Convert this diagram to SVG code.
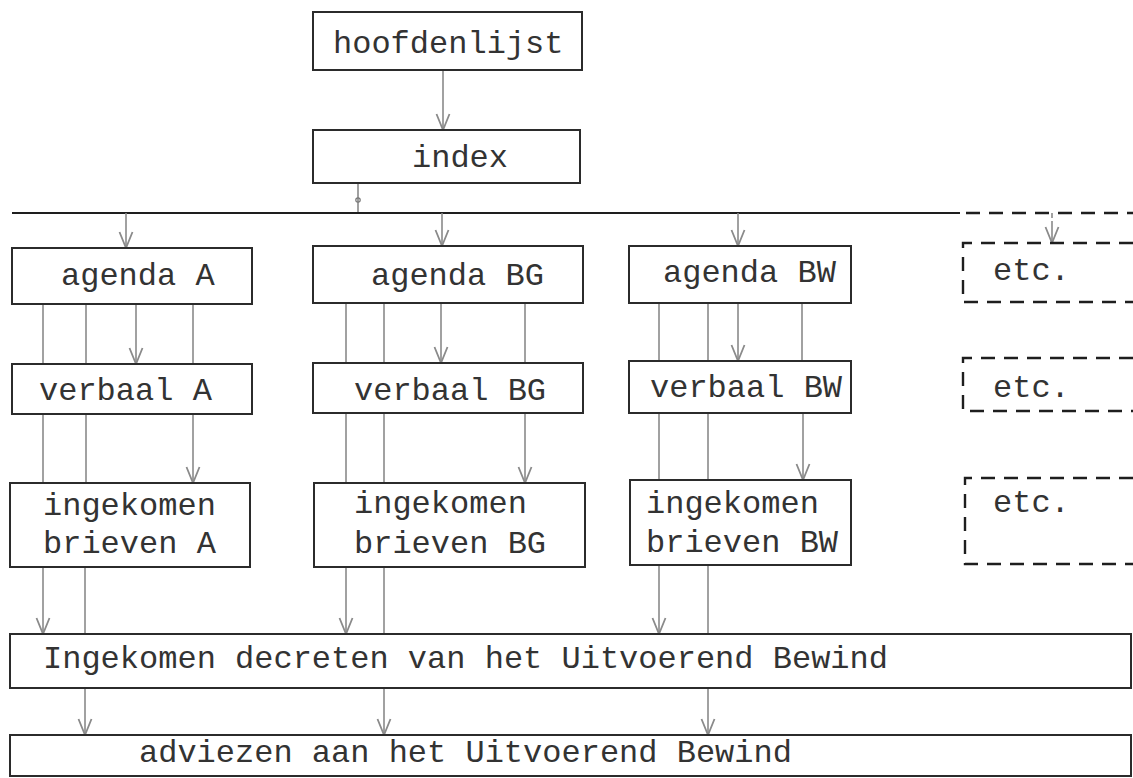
<svg xmlns="http://www.w3.org/2000/svg" width="1133" height="778" viewBox="0 0 1133 778">
<style>
  .box { fill: #fff; stroke: #2b2b2b; stroke-width: 2; }
  .dbox { fill: none; stroke: #1e1e1e; stroke-width: 2.4; stroke-dasharray: 14 9; }
  .t { font-family: "Liberation Mono", "DejaVu Sans Mono", monospace; font-size: 32px; fill: #333; }
  .c { stroke: #8a8a8a; stroke-width: 1.6; fill: none; }
  .a { stroke: #8a8a8a; stroke-width: 1.6; fill: none; marker-end: url(#arr); }
  .h { stroke: #1e1e1e; stroke-width: 2.2; fill: none; }
  .hd { stroke: #1e1e1e; stroke-width: 2.4; fill: none; stroke-dasharray: 14 9; }
</style>
<defs>
  <marker id="arr" viewBox="0 0 18 16" refX="17" refY="8" markerWidth="18" markerHeight="16" markerUnits="userSpaceOnUse" orient="auto">
    <path d="M1,1.5 L17,8 L1,14.5" fill="none" stroke="#8a8a8a" stroke-width="1.8"/>
  </marker>
</defs>
<rect width="1133" height="778" fill="#fff"/>

<g id="connectors">
  <line class="a" x1="443" y1="70" x2="443" y2="130"/>
  <line class="c" x1="358" y1="184" x2="358" y2="213"/>
  <circle cx="358" cy="200" r="2.2" fill="none" stroke="#777" stroke-width="1.2"/>
  <line class="h" x1="12" y1="213" x2="960" y2="213"/>
  <line class="hd" x1="966" y1="213" x2="1133" y2="213"/>
  <line class="a" x1="126" y1="213" x2="126" y2="248"/>
  <line class="a" x1="442" y1="213" x2="442" y2="246"/>
  <line class="a" x1="738" y1="213" x2="738" y2="246"/>
  <line class="c" x1="1052" y1="213" x2="1052" y2="228" stroke-dasharray="5 3"/>
  <line class="a" x1="1052" y1="226" x2="1052" y2="243"/>

  <line class="c" x1="43" y1="304" x2="43" y2="364"/>
  <line class="c" x1="86" y1="304" x2="86" y2="364"/>
  <line class="a" x1="136" y1="304" x2="136" y2="364"/>
  <line class="c" x1="193" y1="304" x2="193" y2="364"/>
  <line class="c" x1="346" y1="303" x2="346" y2="363"/>
  <line class="c" x1="384" y1="303" x2="384" y2="363"/>
  <line class="a" x1="441" y1="303" x2="441" y2="363"/>
  <line class="c" x1="525" y1="303" x2="525" y2="363"/>
  <line class="c" x1="659" y1="303" x2="659" y2="361"/>
  <line class="c" x1="708" y1="303" x2="708" y2="361"/>
  <line class="a" x1="738" y1="303" x2="738" y2="361"/>
  <line class="c" x1="802" y1="303" x2="802" y2="361"/>

  <line class="c" x1="43" y1="414" x2="43" y2="483"/>
  <line class="c" x1="86" y1="414" x2="86" y2="483"/>
  <line class="a" x1="193" y1="414" x2="193" y2="483"/>
  <line class="c" x1="346" y1="413" x2="346" y2="483"/>
  <line class="c" x1="384" y1="413" x2="384" y2="483"/>
  <line class="a" x1="525" y1="413" x2="525" y2="483"/>
  <line class="c" x1="659" y1="413" x2="659" y2="480"/>
  <line class="c" x1="708" y1="413" x2="708" y2="480"/>
  <line class="a" x1="803" y1="413" x2="803" y2="480"/>

  <line class="a" x1="43" y1="567" x2="43" y2="634"/>
  <line class="c" x1="85" y1="567" x2="85" y2="634"/>
  <line class="a" x1="346" y1="567" x2="346" y2="634"/>
  <line class="c" x1="384" y1="567" x2="384" y2="634"/>
  <line class="a" x1="659" y1="565" x2="659" y2="634"/>
  <line class="c" x1="708" y1="565" x2="708" y2="634"/>

  <line class="a" x1="85" y1="688" x2="85" y2="735"/>
  <line class="a" x1="384" y1="688" x2="384" y2="735"/>
  <line class="a" x1="708" y1="688" x2="708" y2="735"/>
</g>

<g id="hoofdenlijst">
  <rect class="box" x="313" y="12" width="269" height="58"/>
  <text class="t" x="333" y="53">hoofdenlijst</text>
</g>
<g id="index">
  <rect class="box" x="313" y="130" width="267" height="53"/>
  <text class="t" x="412" y="167">index</text>
</g>

<g id="agendaA">
  <rect class="box" x="12" y="248" width="240" height="56"/>
  <text class="t" x="61" y="285">agenda A</text>
</g>
<g id="agendaBG">
  <rect class="box" x="313" y="246" width="270" height="57"/>
  <text class="t" x="371" y="285">agenda BG</text>
</g>
<g id="agendaBW">
  <rect class="box" x="629" y="246" width="222" height="57"/>
  <text class="t" x="663" y="282">agenda BW</text>
</g>
<g id="etc1">
  <path class="dbox" d="M1133,243 H963 V302 H1133"/>
  <text class="t" x="993" y="280">etc.</text>
</g>

<g id="verbaalA">
  <rect class="box" x="12" y="364" width="240" height="50"/>
  <text class="t" x="39" y="400">verbaal A</text>
</g>
<g id="verbaalBG">
  <rect class="box" x="313" y="363" width="270" height="50"/>
  <text class="t" x="354" y="400">verbaal BG</text>
</g>
<g id="verbaalBW">
  <rect class="box" x="629" y="361" width="222" height="52"/>
  <text class="t" x="650" y="397">verbaal BW</text>
</g>
<g id="etc2">
  <path class="dbox" d="M1133,358 H963 V411 H1133"/>
  <text class="t" x="993" y="397">etc.</text>
</g>

<g id="ingekomenA">
  <rect class="box" x="10" y="483" width="240" height="84"/>
  <text class="t" x="43" y="515">ingekomen</text>
  <text class="t" x="43" y="553">brieven A</text>
</g>
<g id="ingekomenBG">
  <rect class="box" x="314" y="483" width="271" height="84"/>
  <text class="t" x="354" y="513">ingekomen</text>
  <text class="t" x="354" y="553">brieven BG</text>
</g>
<g id="ingekomenBW">
  <rect class="box" x="630" y="480" width="221" height="85"/>
  <text class="t" x="646" y="513">ingekomen</text>
  <text class="t" x="646" y="552">brieven BW</text>
</g>
<g id="etc3">
  <path class="dbox" d="M1133,478 H965 V564 H1133"/>
  <text class="t" x="993" y="512">etc.</text>
</g>

<g id="decreten">
  <rect class="box" x="10" y="634" width="1121" height="54"/>
  <text class="t" x="43" y="668">Ingekomen decreten van het Uitvoerend Bewind</text>
</g>
<g id="adviezen">
  <rect class="box" x="10" y="735" width="1121" height="41"/>
  <text class="t" x="139" y="762">adviezen aan het Uitvoerend Bewind</text>
</g>
</svg>
